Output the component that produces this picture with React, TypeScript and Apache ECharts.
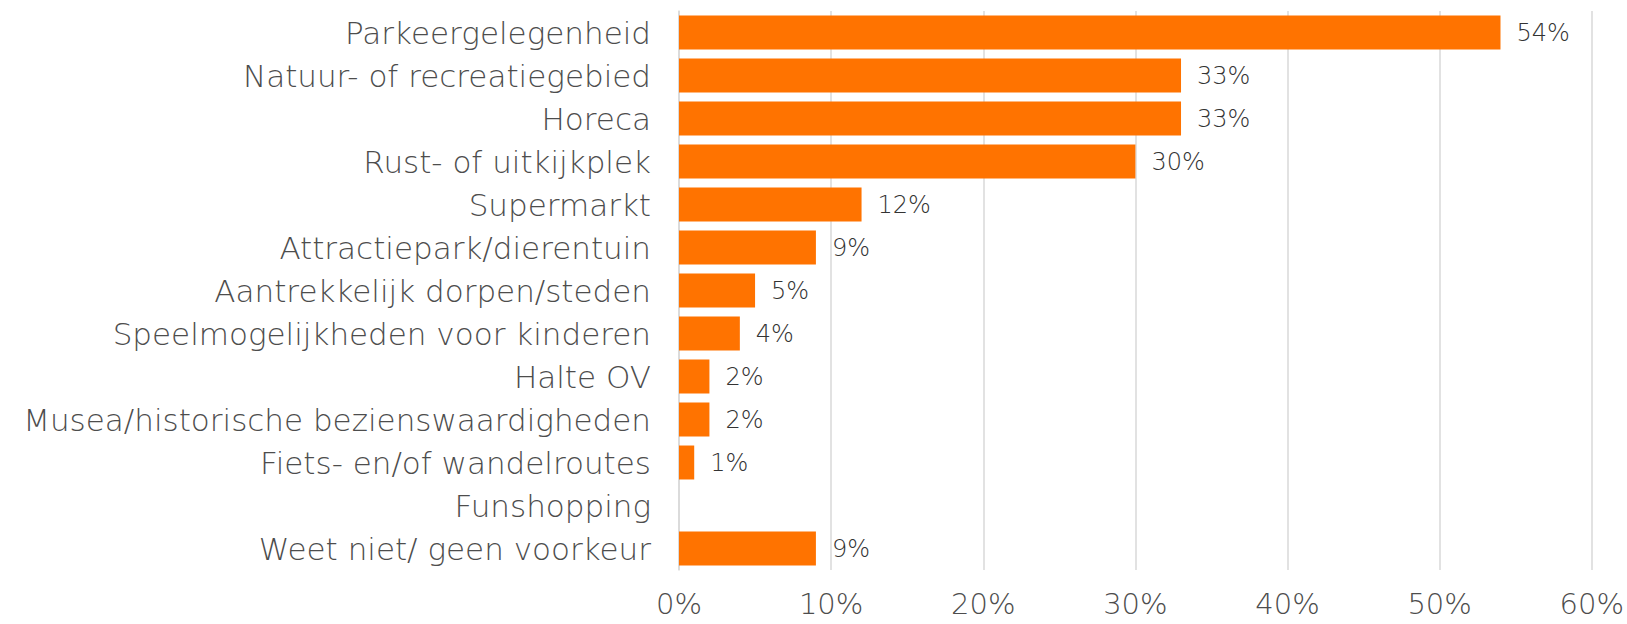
import React, { useEffect, useRef } from "react";
import * as echarts from "echarts";

const categories = [
  "Parkeergelegenheid",
  "Natuur- of recreatiegebied",
  "Horeca",
  "Rust- of uitkijkplek",
  "Supermarkt",
  "Attractiepark/dierentuin",
  "Aantrekkelijk dorpen/steden",
  "Speelmogelijkheden voor kinderen",
  "Halte OV",
  "Musea/historische bezienswaardigheden",
  "Fiets- en/of wandelroutes",
  "Funshopping",
  "Weet niet/ geen voorkeur",
];

const values = [54, 33, 33, 30, 12, 9, 5, 4, 2, 2, 1, 0, 9];

const xTicks = [0, 10, 20, 30, 40, 50, 60];

const FONT = "'DejaVu Sans', sans-serif";

export default function App() {
  const ref = useRef<HTMLDivElement>(null);
  useEffect(() => {
    if (!ref.current) return;
    const chart = echarts.init(ref.current, null, { renderer: "svg" });
    chart.setOption({
      animation: false,
      grid: { left: 679, right: 34, top: 11, bottom: 54, containLabel: false },
      xAxis: {
        type: "value",
        min: xTicks[0],
        max: xTicks[xTicks.length - 1],
        interval: 10,
        axisLine: { show: false },
        axisTick: { show: false },
        splitLine: { show: true, lineStyle: { color: "#d9d9d9", width: 1.5 } },
        axisLabel: {
          formatter: (v: number) => `${v}%`,
          color: "#4d4d4d",
          fontSize: 29,
          fontWeight: 200,
          fontFamily: FONT,
          margin: 19,
        },
      },
      yAxis: {
        type: "category",
        data: categories,
        inverse: true,
        axisLine: { show: true, lineStyle: { color: "#d9d9d9", width: 1.5 } },
        axisTick: { show: false },
        axisLabel: {
          color: "#4d4d4d",
          fontSize: 31,
          fontWeight: 200,
          fontFamily: FONT,
          margin: 28,
        },
      },
      series: [
        {
          type: "bar",
          data: values.map((v) =>
            v === 0 ? { value: v, label: { show: false } } : v
          ),
          barWidth: "79%",
          itemStyle: { color: "#ff7300" },
          label: {
            show: true,
            position: "right",
            distance: 16,
            formatter: "{c}%",
            color: "#333333",
            fontSize: 24,
            fontWeight: 200,
            fontFamily: FONT,
          },
        },
      ],
    });
    return () => chart.dispose();
  }, []);
  return (
    <div
      ref={ref}
      style={{ position: "fixed", left: 0, top: 0, width: 1627, height: 624, background: "#fff" }}
    />
  );
}
